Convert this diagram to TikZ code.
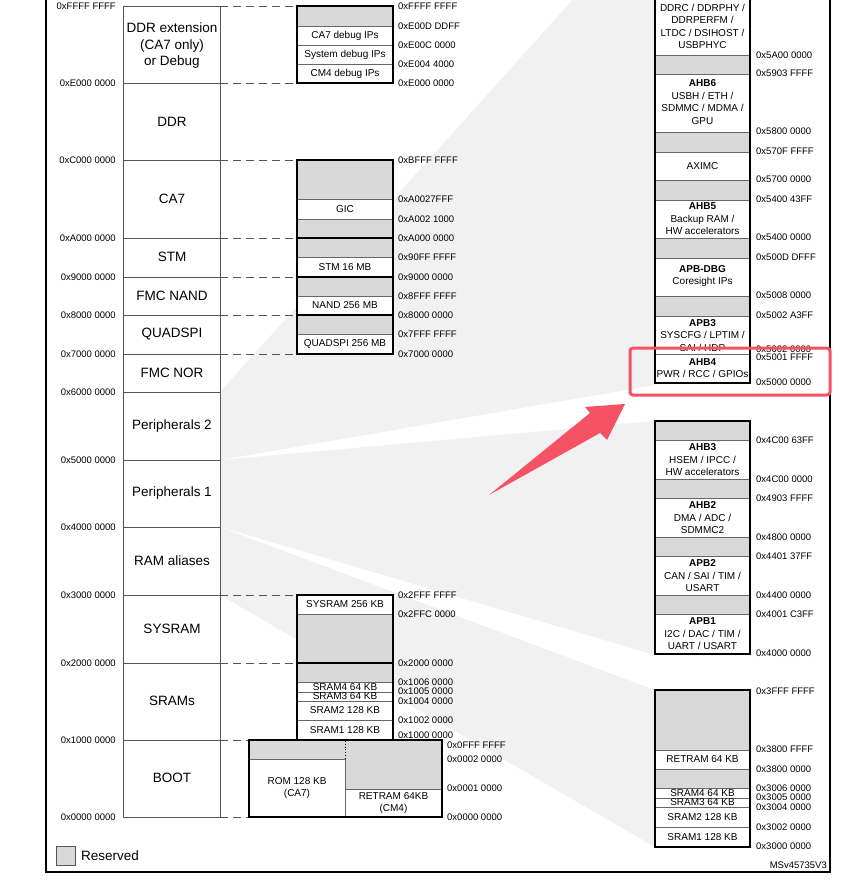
\documentclass[tikz,border=0pt]{standalone}
\usepackage{fontspec}
\setmainfont{Liberation Sans}
\usetikzlibrary{positioning, calc}
\definecolor{cResv}{RGB}{217,217,217}
\definecolor{cZoom}{RGB}{241,241,241}
\definecolor{cLine}{RGB}{85,85,85}
\definecolor{cMark}{RGB}{246,82,102}
\tikzset{
	addr/.style   ={font=\fontsize{9.5}{10}\selectfont, inner sep=0pt},
	addrL/.style  ={addr, anchor=east},
	addrR/.style  ={addr, anchor=west},
	region/.style ={font=\fontsize{13.5}{16.5}\selectfont, align=center, inner sep=0pt},
	cell/.style   ={font=\fontsize{10}{12.5}\selectfont, align=center, inner sep=0pt},
	cellbox/.style={fill=white, draw=gray!80!black, line width=0.8pt},
	resv/.style   ={fill=cResv, draw=gray!80!black, line width=0.8pt},
	blockline/.style={draw=black, line width=1.6pt},
	mapline/.style={draw=cLine, line width=0.9pt},
	guide/.style  ={draw=cLine, dashed, dash pattern=on 8pt off 5pt, line width=0.9pt},
	zoomwedge/.style={fill=cZoom, draw=none},
}

\begin{document}
\begin{tikzpicture}[x=1pt, y=-1pt]
	\useasboundingbox (0,0) rectangle (866,880);
	\clip (0,0) rectangle (866,880);
	% zoom wedges
	\fill[zoomwedge] (220,392) -- (655,-92) -- (655,385) -- (220,460) -- cycle;
	\fill[zoomwedge] (220,460) -- (655,421) -- (655,655) -- (220,527) -- cycle;
	\fill[zoomwedge] (220,527) -- (655,690) -- (655,847) -- (220,595) -- cycle;
	% frame
	\draw[black, line width=1.2pt] (46,0) -- (46,872) -- (830,872) -- (830,0);

	% full address map
	\draw[mapline] (123,6) -- (123,817) (220,6) -- (220,817);
	\foreach \y/\a in {6/0xFFFF FFFF, 83/0xE000 0000, 160/0xC000 0000, 238/0xA000 0000,
		277/0x9000 0000, 315/0x8000 0000, 354/0x7000 0000, 392/0x6000 0000,
		460/0x5000 0000, 527/0x4000 0000, 595/0x3000 0000, 663/0x2000 0000,
		740/0x1000 0000, 817/0x0000 0000}{
		\draw[mapline] (123,\y) -- (220,\y);
		\node[addrL] (a\y) at (116,\y) {\a};
	}
	\node[region] (ddrx) at (172,46) {DDR extension\\(CA7 only)\\or Debug};
	\foreach \y/\t in {122/DDR, 199/CA7, 257/STM, 296/FMC NAND, 334/QUADSPI, 373/FMC NOR,
		426/Peripherals 2, 493/Peripherals 1, 561/RAM aliases, 629/SYSRAM, 701/SRAMs, 778/BOOT}
		\node[region] (reg\y) at (172,\y) {\t};

	% dashed guides
	\foreach \y in {6,83,160,238,277,315,354,595,663}
		\draw[guide] (220,\y) -- (297,\y);
	\foreach \y in {740,817}
		\draw[guide] (220,\y) -- (249,\y);

	% middle column
	\foreach \ya/\yb/\t in {26/45/CA7 debug IPs, 45/64/System debug IPs, 64/83/CM4 debug IPs,
		199/219/GIC, 257/277/STM 16 MB, 296/315/NAND 256 MB, 334/354/QUADSPI 256 MB,
		595/614/SYSRAM 256 KB, 682/692/SRAM4 64 KB, 692/701/SRAM3 64 KB,
		701/720/SRAM2 128 KB, 720/740/SRAM1 128 KB}
		\draw[cellbox] (297,\ya) rectangle node[cell] (m\ya) {\t} (393,\yb);
	\foreach \ya/\yb in {6/26,160/199,219/238,238/257,277/296,315/334,614/663,663/682}
		\draw[resv] (297,\ya) rectangle (393,\yb);
	\foreach \ya/\yb in {6/83,160/238,238/277,277/315,315/354,595/663,663/740}
		\draw[blockline] (297,\ya) rectangle (393,\yb);
	\foreach \y/\a in {6/0xFFFF FFFF, 26/0xE00D DDFF, 45/0xE00C 0000, 64/0xE004 4000,
		83/0xE000 0000, 160/0xBFFF FFFF, 199/0xA0027FFF, 219/0xA002 1000, 238/0xA000 0000,
		257/0x90FF FFFF, 277/0x9000 0000, 296/0x8FFF FFFF, 315/0x8000 0000,
		334/0x7FFF FFFF, 354/0x7000 0000, 595/0x2FFF FFFF, 614/0x2FFC 0000,
		663/0x2000 0000, 682/0x1006 0000, 691/0x1005 0000, 701/0x1004 0000,
		720/0x1002 0000, 735/0x1000 0000}
		\node[addrR] (b\y) at (398,\y) {\a};

	% boot area
	\draw[resv] (249,740) rectangle (345,759);
	\draw[resv] (345,740) rectangle (442,789);
	\draw[cellbox] (249,759) rectangle node[cell] (rom) {ROM 128 KB\\(CA7)} (345,817);
	\draw[cellbox] (345,789) rectangle node[cell] (retboot) {RETRAM 64KB\\(CM4)} (442,817);
	\draw[cResv, line width=1pt] (345,741) -- (345,758);
	\draw[black, dotted, line width=0.8pt] (345,741) -- (345,759);
	\draw[blockline] (249,740) rectangle (442,817);
	\foreach \y/\a in {745/0x0FFF FFFF, 759/0x0002 0000, 788/0x0001 0000, 817/0x0000 0000}
		\node[addrR] (c\y) at (447,\y) {\a};

	% peripherals 2 detail
	\draw[cellbox] (655,-30) rectangle (750,55);
	\node[cell] (apbtop) at (702.5,26.5) {DDRC / DDRPHY /\\DDRPERFM /\\LTDC / DSIHOST /\\USBPHYC};
	\draw[cellbox] (655,74) rectangle (750,132);
	\node[cell] (ahb6) at (702.5,102) {\textbf{AHB6}\\USBH / ETH /\\SDMMC / MDMA /\\GPU};
	\draw[cellbox] (655,152) rectangle (750,180);
	\node[cell] (aximc) at (702.5,166) {AXIMC};
	\draw[cellbox] (655,200) rectangle (750,238);
	\node[cell] (ahb5) at (702.5,219) {\textbf{AHB5}\\Backup RAM /\\HW accelerators};
	\draw[cellbox] (655,258) rectangle (750,296);
	\node[cell] (apbdbg) at (702.5,276) {\textbf{APB-DBG}\\Coresight IPs};
	\draw[cellbox] (655,316) rectangle (750,354);
	\node[cell] (apb3) at (702.5,335.5) {\textbf{APB3}\\SYSCFG / LPTIM /\\SAI / HDP};
	\draw[cellbox] (655,354) rectangle (750,383);
	\node[cell] (ahb4) at (702.5,368) {\textbf{AHB4}\\PWR / RCC / GPIOs};
	\foreach \ya/\yb in {55/74,132/152,180/200,238/258,296/316}
		\draw[resv] (655,\ya) rectangle (750,\yb);
	\draw[blockline] (655,-30) -- (655,383) -- (750,383) -- (750,-30);
	\foreach \y/\a in {55/0x5A00 0000, 73/0x5903 FFFF, 131/0x5800 0000, 151/0x570F FFFF,
		179/0x5700 0000, 199/0x5400 43FF, 237/0x5400 0000, 257/0x500D DFFF,
		295/0x5008 0000, 315/0x5002 A3FF, 349/0x5002 0000, 357/0x5001 FFFF,
		382/0x5000 0000}
		\node[addrR] (d\y) at (756,\y) {\a};

	% peripherals 1 detail
	\draw[cellbox] (655,440) rectangle (750,479);
	\node[cell] (ahb3) at (702.5,460) {\textbf{AHB3}\\HSEM / IPCC /\\HW accelerators};
	\draw[cellbox] (655,498) rectangle (750,537);
	\node[cell] (ahb2) at (702.5,518) {\textbf{AHB2}\\DMA / ADC /\\SDMMC2};
	\draw[cellbox] (655,556) rectangle (750,595);
	\node[cell] (apb2) at (702.5,576) {\textbf{APB2}\\CAN / SAI / TIM /\\USART};
	\draw[cellbox] (655,614) rectangle (750,654);
	\node[cell] (apb1) at (702.5,634) {\textbf{APB1}\\I2C / DAC / TIM /\\UART / USART};
	\foreach \ya/\yb in {421/440,479/498,537/556,595/614}
		\draw[resv] (655,\ya) rectangle (750,\yb);
	\draw[blockline] (655,421) rectangle (750,654);
	\foreach \y/\a in {440/0x4C00 63FF, 479/0x4C00 0000, 498/0x4903 FFFF, 537/0x4800 0000,
		556/0x4401 37FF, 595/0x4400 0000, 614/0x4001 C3FF, 653/0x4000 0000}
		\node[addrR] (e\y) at (756,\y) {\a};

	% RAM aliases detail
	\foreach \ya/\yb/\t in {750/769/RETRAM 64 KB, 788/798/SRAM4 64 KB, 798/807/SRAM3 64 KB,
		807/827/SRAM2 128 KB, 827/847/SRAM1 128 KB}
		\draw[cellbox] (655,\ya) rectangle node[cell] (s\ya) {\t} (750,\yb);
	\foreach \ya/\yb in {690/750,769/788}
		\draw[resv] (655,\ya) rectangle (750,\yb);
	\draw[blockline] (655,690) rectangle (750,847);
	\foreach \y/\a in {691/0x3FFF FFFF, 749/0x3800 FFFF, 769/0x3800 0000, 788/0x3006 0000,
		797/0x3005 0000, 807/0x3004 0000, 827/0x3002 0000, 846/0x3000 0000}
		\node[addrR] (f\y) at (756,\y) {\a};

	% legend
	\draw[resv, draw=cLine, line width=1pt] (56,846) rectangle (75,865);
	\node[region, anchor=west] (legend) at (81,856) {Reserved};
	\node[addr, font=\fontsize{9.5}{10}\selectfont, anchor=east] (ref) at (827,865) {MSv45735V3};

	% highlight
	\draw[cMark, line width=3pt, rounded corners=3pt] (630,348) rectangle (830,395);
	\fill[cMark] (489,495) -- (600,433) -- (607,440) -- (625,404) -- (585,407) -- (590,413) -- cycle;
\end{tikzpicture}
\end{document}
